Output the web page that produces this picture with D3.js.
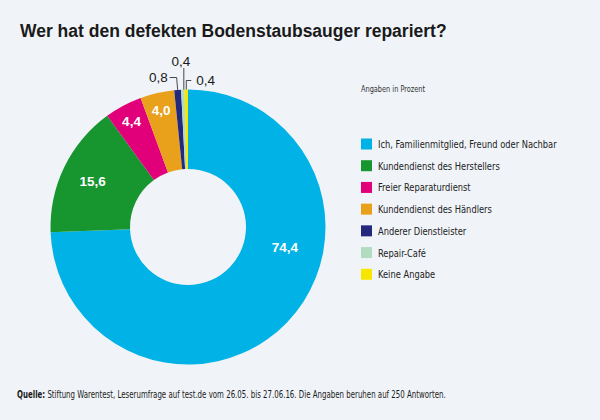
<!DOCTYPE html>
<html>
<head>
<meta charset="utf-8">
<script src="https://cdn.jsdelivr.net/npm/d3@7"></script>
<style>
  body { margin: 0; background: #f0f4f8; }
  svg { display: block; }
</style>
</head>
<body>
<div id="chart"></div>
<script>
// data
// -----------------------------------------------
const categories = [
  'Ich, Familienmitglied, Freund oder Nachbar',
  'Kundendienst des Herstellers',
  'Freier Reparaturdienst',
  'Kundendienst des Händlers',
  'Anderer Dienstleister',
  'Repair-Café',
  'Keine Angabe',
];
const values = [74.4, 15.6, 4.4, 4.0, 0.8, 0.4, 0.4];
const colors = ['#00b2e5', '#17952f', '#e2007a', '#e9a01a', '#24297e', '#b2dcc0', '#f7e700'];

// layout
// -----------------------------------------------
const width = 600,
  height = 420;
const cx = 188,
  cy = 227,
  outerR = 137.5,
  innerR = 58;

const fmt = (v) => d3.format('.1f')(v).replace('.', ',');

const data = categories.map((c, i) => ({ name: c, value: values[i], color: colors[i] }));

// squeeze a text horizontally to imitate a condensed face
const squeeze = (sel, k) =>
  sel.each(function () {
    const len = this.getComputedTextLength();
    d3.select(this).attr('textLength', len * k).attr('lengthAdjust', 'spacingAndGlyphs');
  });

const svg = d3
  .select('#chart')
  .append('svg')
  .attr('width', width)
  .attr('height', height)
  .attr('viewBox', [0, 0, width, height]);

svg.append('rect').attr('width', width).attr('height', height).attr('fill', '#f0f4f8');

// title
svg
  .append('text')
  .attr('x', 20)
  .attr('y', 37)
  .attr('font-family', 'Liberation Sans, Arial, sans-serif')
  .attr('font-weight', 'bold')
  .attr('font-size', 17.5)
  .attr('fill', '#1a1a1a')
  .text('Wer hat den defekten Bodenstaubsauger repariert?');

// donut
// -----------------------------------------------
const pie = d3.pie().value((d) => d.value).sort(null);
const arcs = pie(data);
const arc = d3.arc().innerRadius(innerR).outerRadius(outerR);

const g = svg.append('g').attr('transform', `translate(${cx},${cy})`);

g.selectAll('path')
  .data(arcs)
  .join('path')
  .attr('d', arc)
  .attr('fill', (d) => d.data.color);

// point on a circle for an angle measured clockwise from 12 o'clock
const polar = (a, r) => [Math.sin(a) * r, -Math.cos(a) * r];

// inner labels (white) for the four big slices
const inside = arcs.filter((d) => d.data.value >= 4);
g.selectAll('text.inner')
  .data(inside)
  .join('text')
  .attr('class', 'inner')
  .attr('transform', (d, i) => {
    let a = (d.startAngle + d.endAngle) / 2,
      r = 120;
    if (i === 0) {
      a = d.startAngle + (d.endAngle - d.startAngle) * 0.38;
      r = 99;
    } else if (i === 1) {
      r = 106;
    }
    const [x, y] = polar(a, r);
    return `translate(${x},${y})`;
  })
  .attr('dy', '0.36em')
  .attr('text-anchor', 'middle')
  .attr('font-family', 'Liberation Sans, Arial, sans-serif')
  .attr('font-weight', 'bold')
  .attr('font-size', 13.5)
  .attr('fill', '#fff')
  .text((d) => fmt(d.data.value));

// outer labels with leader lines for the tiny slices
const outside = arcs.filter((d) => d.data.value < 4);
const side = ['left', 'top', 'right'];
const lineY = [-149.5, -159, -146.5];

outside.forEach((d, i) => {
  const a = (d.startAngle + d.endAngle) / 2;
  const [x0, y0] = polar(a, outerR);
  const ly = lineY[i];
  let pts, tx, ty, anchor;
  if (side[i] === 'left') {
    pts = [[x0, y0], [x0 - 1, ly], [x0 - 8, ly]];
    tx = x0 - 10;
    ty = ly + 4.5;
    anchor = 'end';
  } else if (side[i] === 'top') {
    pts = [[x0 + 1, y0], [x0 + 1, ly]];
    tx = x0 - 2;
    ty = ly - 2;
    anchor = 'middle';
  } else {
    pts = [[x0, y0], [x0, ly], [x0 + 5, ly]];
    tx = x0 + 10;
    ty = ly + 4.5;
    anchor = 'start';
  }
  g.append('path')
    .attr('d', d3.line()(pts))
    .attr('fill', 'none')
    .attr('stroke', '#333')
    .attr('stroke-width', 0.9);
  g.append('text')
    .attr('x', tx)
    .attr('y', ty)
    .attr('text-anchor', anchor)
    .attr('font-family', 'Liberation Sans, Arial, sans-serif')
    .attr('font-size', 13.5)
    .attr('fill', '#1a1a1a')
    .text(fmt(d.data.value));
});

// legend
// -----------------------------------------------
const legendFont = 'DejaVu Sans Condensed, sans-serif';

svg
  .append('text')
  .attr('x', 361)
  .attr('y', 92)
  .attr('font-family', legendFont)
  .attr('font-size', 8.5)
  .attr('fill', '#333')
  .text('Angaben in Prozent')
  .call(squeeze, 0.86);

const ly = d3
  .scaleBand()
  .domain(categories)
  .range([133, 285])
  .paddingInner(0);

const legend = svg
  .append('g')
  .selectAll('g')
  .data(data)
  .join('g')
  .attr('transform', (d) => `translate(361,${ly(d.name) + 5.5})`);

legend
  .append('rect')
  .attr('width', 11)
  .attr('height', 11)
  .attr('fill', (d) => d.color);

legend
  .append('text')
  .attr('x', 17)
  .attr('y', 9.5)
  .attr('font-family', legendFont)
  .attr('font-size', 11)
  .attr('fill', '#222')
  .text((d) => d.name)
  .call(squeeze, 0.84);

// source
// -----------------------------------------------
const src = svg
  .append('text')
  .attr('font-family', legendFont)
  .attr('font-size', 10)
  .attr('fill', '#1a1a1a');
src.append('tspan').attr('font-weight', 'bold').text('Quelle:');
src
  .append('tspan')
  .text(' Stiftung Warentest, Leserumfrage auf test.de vom 26.05. bis 27.06.16. Die Angaben beruhen auf 250 Antworten.');
const srcK = 429 / src.node().getBBox().width;
src.attr('transform', `translate(17,398) scale(${srcK},1)`);
</script>
</body>
</html>
